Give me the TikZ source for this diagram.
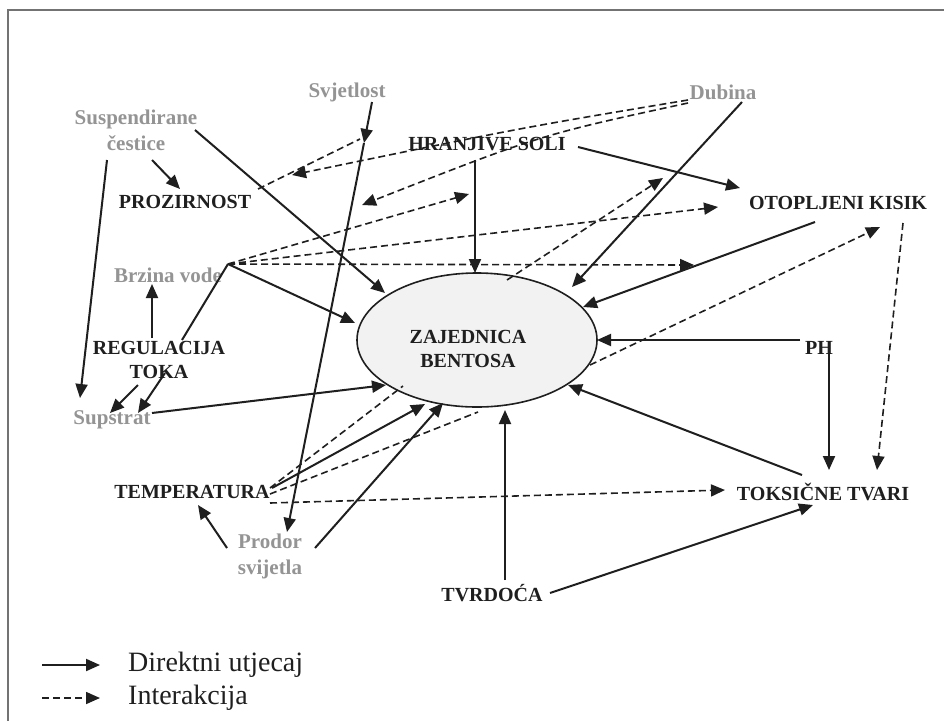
\documentclass[tikz,border=0pt]{standalone}
\usepackage{fontspec}
\setmainfont{Liberation Serif}
\usetikzlibrary{arrows.meta,shapes.geometric}
\definecolor{inkc}{gray}{0.12}
\definecolor{palec}{gray}{0.58}
\definecolor{fillc}{gray}{0.95}
\definecolor{framec}{gray}{0.45}
\tikzset{
  keylab/.style={font=\bfseries\fontsize{20}{24}\selectfont, text=inkc, inner sep=1pt, align=center},
  softlab/.style={font=\bfseries\fontsize{21}{26}\selectfont, text=palec, inner sep=1pt, align=center},
  tipc/.style={-{Triangle[length=14pt,width=12pt]}},
  direct/.style={draw=inkc, line width=2pt, tipc},
  inter/.style={draw=inkc, line width=1.6pt, dash pattern=on 7pt off 4pt, tipc},
  interplain/.style={draw=inkc, line width=1.6pt, dash pattern=on 7pt off 4pt},
  plainline/.style={draw=inkc, line width=2pt},
  benthos/.style={ellipse, draw=inkc, line width=1.6pt, fill=fillc, minimum width=240pt, minimum height=134pt, inner sep=0pt},
  legtxt/.style={font=\fontsize{28}{30}\selectfont, text=inkc, anchor=west, inner sep=0pt}
}
\begin{document}
\begin{tikzpicture}[x=1pt,y=-1pt]
\useasboundingbox (0,0) rectangle (944,721);
\fill[white] (0,0) rectangle (944,721);
\draw[framec, line width=1.2pt] (8,721) -- (8,10) -- (944,10);

% central ellipse
\node[benthos] (zb) at (477,340) {};
\node[keylab] (zbt) at (468,349) {ZAJEDNICA\\BENTOSA};

% labels
\node[softlab] (svj) at (347,92) {Svjetlost};
\node[softlab] (dub) at (723,92) {Dubina};
\node[softlab] (sus) at (136,130) {Suspendirane\\čestice};
\node[keylab] (proz) at (185,202) {PROZIRNOST};
\node[keylab] (hra) at (487,144) {HRANJIVE SOLI};
\node[keylab] (oto) at (838,203) {OTOPLJENI KISIK};
\node[softlab] (brz) at (168,275) {Brzina vode};
\node[keylab] (reg) at (159,360) {REGULACIJA\\TOKA};
\node[softlab] (sup) at (112,420) {Supstrat};
\node[keylab] (ph) at (819,348) {PH};
\node[keylab] (temp) at (192,492) {TEMPERATURA};
\node[softlab] (prod) at (270,556) {Prodor\\svijetla};
\node[keylab] (tvr) at (492,593) {TVRDOĆA};
\node[keylab] (tok) at (823,492) {TOKSIČNE TVARI};

% connector end points
\coordinate (susA) at (152,160); \coordinate (prozTop) at (180,189);
\coordinate (susB) at (195,130); \coordinate (zbNW) at (385,293);
\coordinate (susC) at (107,160); \coordinate (supTop) at (80,398);
\coordinate (svjA) at (372,102); \coordinate (svjMid) at (364,143);
\coordinate (prodTop) at (287,532);
\coordinate (prozE) at (258,189); \coordinate (svjHit) at (360,139);
\coordinate (dubA) at (688,100); \coordinate (dubB) at (688,103);
\coordinate (prozNE) at (292,175); \coordinate (svjHitB) at (362,205);
\coordinate (dubC) at (742,102); \coordinate (zbNE) at (572,287);
\coordinate (hraE) at (578,147); \coordinate (otoW) at (740,188);
\coordinate (hraS) at (475,160); \coordinate (zbTop) at (475,273);
\coordinate (hub) at (228,264);
\coordinate (zbW) at (355,323);
\coordinate (hraLine) at (469,194);
\coordinate (otoSW) at (718,207);
\coordinate (otoLine) at (694,265);
\coordinate (regA) at (152,338); \coordinate (brzB) at (152,284);
\coordinate (regB) at (182,340);
\coordinate (regC) at (138,385); \coordinate (supA) at (110,413);
\coordinate (regD) at (165,373); \coordinate (supB) at (138,413);
\coordinate (supE) at (152,413); \coordinate (zbSW) at (386,385);
\coordinate (tempA) at (272,488); \coordinate (zbS1) at (425,404);
\coordinate (tempB) at (270,488); \coordinate (zbS0) at (403,386);
\coordinate (tempC) at (270,494); \coordinate (zbS3) at (478,412);
\coordinate (tempD) at (270,503); \coordinate (tokW) at (725,490);
\coordinate (prodA) at (227,548); \coordinate (tempS) at (198,505);
\coordinate (prodB) at (315,548); \coordinate (zbS2) at (443,403);
\coordinate (tvrA) at (505,580); \coordinate (zbBot) at (505,410);
\coordinate (tvrB) at (550,593); \coordinate (tokSW) at (813,505);
\coordinate (tokA) at (802,475); \coordinate (zbSE) at (568,385);
\coordinate (phA) at (800,340); \coordinate (zbE) at (597,340);
\coordinate (phB) at (829,354); \coordinate (tokN) at (829,470);
\coordinate (otoA) at (815,222); \coordinate (zbENE) at (583,307);
\coordinate (otoB) at (903,223); \coordinate (tokNE) at (877,470);
\coordinate (zbT2) at (507,280); \coordinate (dubLine) at (663,178);
\coordinate (zbR) at (590,365); \coordinate (otoSE) at (880,227);

% direct influences
\draw[direct] (susA) -- (prozTop);
\draw[direct] (susB) -- (zbNW);
\draw[direct] (susC) -- (supTop);
\draw[direct] (svjA) -- (svjMid);
\draw[direct] (svjMid) -- (prodTop);
\draw[direct] (dubC) -- (zbNE);
\draw[direct] (hraE) -- (otoW);
\draw[direct] (hraS) -- (zbTop);
\draw[direct] (hub) -- (zbW);
\draw[direct] (regA) -- (brzB);
\draw[plainline] (regB) -- (hub);
\draw[direct] (regC) -- (supA);
\draw[direct] (regD) -- (supB);
\draw[direct] (supE) -- (zbSW);
\draw[direct] (tempA) -- (zbS1);
\draw[direct] (prodA) -- (tempS);
\draw[direct] (prodB) -- (zbS2);
\draw[direct] (tvrA) -- (zbBot);
\draw[direct] (tvrB) -- (tokSW);
\draw[direct] (tokA) -- (zbSE);
\draw[direct] (phA) -- (zbE);
\draw[direct] (phB) -- (tokN);
\draw[direct] (otoA) -- (zbENE);

% interactions
\draw[interplain] (prozE) -- (svjHit);
\draw[inter] (dubA) .. controls (520,128) .. (prozNE);
\draw[inter] (dubB) .. controls (540,135) .. (svjHitB);
\draw[inter] (hub) -- (hraLine);
\draw[inter] (hub) -- (otoSW);
\draw[inter] (hub) -- (otoLine);
\draw[interplain] (tempB) -- (zbS0);
\draw[interplain] (tempC) -- (zbS3);
\draw[inter] (tempD) -- (tokW);
\draw[inter] (otoB) -- (tokNE);
\draw[inter] (zbT2) -- (dubLine);
\draw[inter] (zbR) -- (otoSE);

% legend
\coordinate (lgA1) at (42,665); \coordinate (lgA2) at (100,665);
\coordinate (lgB1) at (42,698); \coordinate (lgB2) at (100,698);
\draw[direct] (lgA1) -- (lgA2);
\draw[inter] (lgB1) -- (lgB2);
\node[legtxt] (lgA) at (128,665) {Direktni utjecaj};
\node[legtxt] (lgB) at (128,698) {Interakcija};
\end{tikzpicture}
\end{document}
